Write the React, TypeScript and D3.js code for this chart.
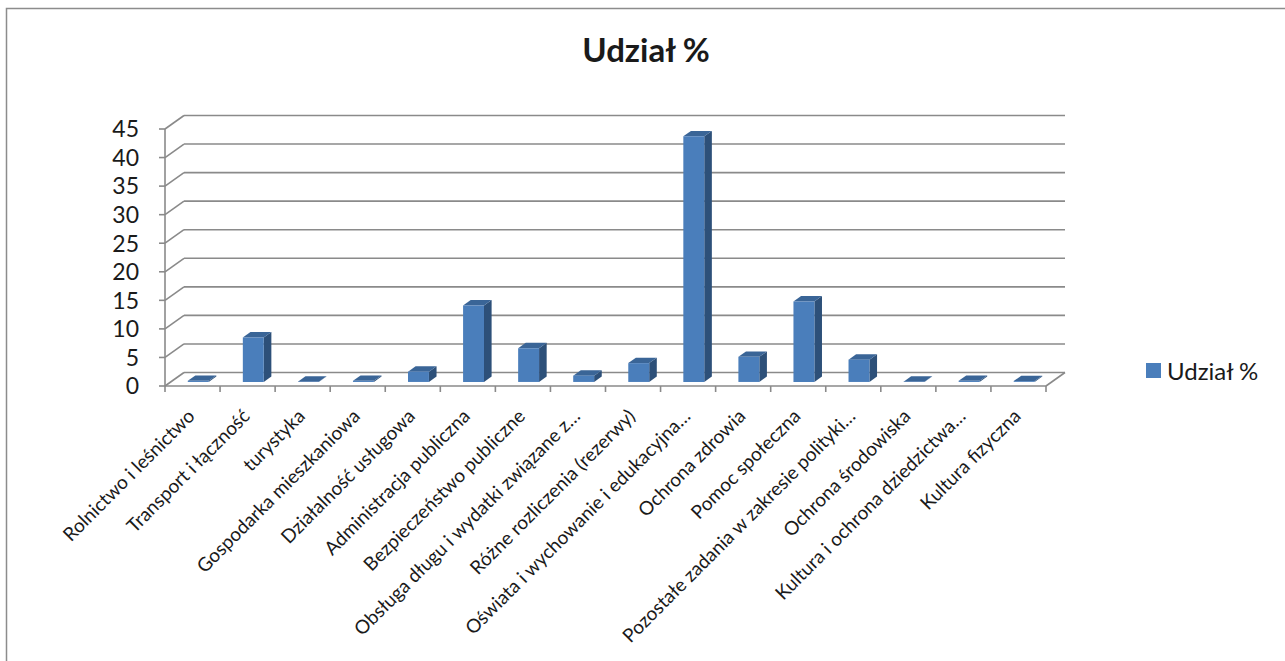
import React from "react";
import * as d3 from "d3";

const categories = [
  "Rolnictwo i leśnictwo",
  "Transport i łączność",
  "turystyka",
  "Gospodarka mieszkaniowa",
  "Działalność usługowa",
  "Administracja publiczna",
  "Bezpieczeństwo publiczne",
  "Obsługa długu i wydatki związane z…",
  "Różne rozliczenia (rezerwy)",
  "Oświata i wychowanie i edukacyjna…",
  "Ochrona zdrowia",
  "Pomoc społeczna",
  "Pozostałe zadania w zakresie polityki…",
  "Ochrona środowiska",
  "Kultura i ochrona dziedzictwa…",
  "Kultura fizyczna",
];

const values = [0.2, 7.8, 0.05, 0.2, 1.8, 13.4, 5.9, 1.1, 3.3, 43.0, 4.4, 14.1, 3.9, 0.05, 0.2, 0.15];

const yTicks = [0, 5, 10, 15, 20, 25, 30, 35, 40, 45];

const title = "Udział %";
const seriesName = "Udział %";

const FONT = "Lato, 'Open Sans', sans-serif";

export default function App() {
  const W = 1285;
  const H = 661;
  const x0 = 165;
  const x1 = 1046;
  const yBase = 386;
  const yTop = 129;
  const DX = 19;
  const DY = -13.5;

  const x = d3.scaleBand<string>().domain(categories).range([x0, x1]).padding(0);
  const y = d3.scaleLinear().domain([0, 45]).range([yBase, yTop]);

  const grid = "#8a8a8a";
  const bw = x.bandwidth() * 0.38;
  const f1 = 0.3;
  const f2 = 0.7;
  const bdx = (f2 - f1) * DX;
  const bdy = (f2 - f1) * DY;

  return (
    <svg width={W} height={H} style={{ position: "absolute", left: 0, top: 0 }}>
      <rect x={0} y={0} width={W} height={H} fill="#fff" />
      <rect x={6.5} y={8.5} width={W + 10} height={H + 10} fill="none" stroke="#8c8c8c" strokeWidth={1.5} />
      <text x={646} y={62} textAnchor="middle" fontFamily={FONT} fontWeight="bold" fontSize={33} fill="#1a1a1a">
        {title}
      </text>

      {yTicks.map((t) => (
        <g key={t}>
          <line x1={x0 + DX} x2={x1 + DX} y1={y(t) + DY} y2={y(t) + DY} stroke={grid} strokeWidth={1.6} />
          <line x1={x0} x2={x0 + DX} y1={y(t)} y2={y(t) + DY} stroke={grid} strokeWidth={1.6} />
          <line x1={x0 - 6} x2={x0} y1={y(t)} y2={y(t)} stroke={grid} strokeWidth={1.6} />
          <text x={139} y={y(t)} dy="0.36em" textAnchor="end" fontFamily={FONT} fontSize={23} fill="#1a1a1a">
            {t}
          </text>
        </g>
      ))}
      <line x1={x1} x2={x1 + DX} y1={yBase} y2={yBase + DY} stroke={grid} strokeWidth={1.6} />
      <line x1={x0} x2={x0} y1={yTop} y2={yBase} stroke={grid} strokeWidth={1.6} />

      {categories.map((c, i) => {
        const cx = (x(c) as number) + x.bandwidth() / 2 + f1 * DX;
        const by = yBase + f1 * DY;
        const h = yBase - y(values[i]);
        const xl = cx - bw / 2;
        const xr = cx + bw / 2;
        const yt = by - h;
        const front = `M${xl},${by}L${xr},${by}L${xr},${yt}L${xl},${yt}Z`;
        const side = `M${xr},${by}L${xr + bdx},${by + bdy}L${xr + bdx},${yt + bdy}L${xr},${yt}Z`;
        const top = `M${xl},${yt}L${xr},${yt}L${xr + bdx},${yt + bdy}L${xl + bdx},${yt + bdy}Z`;
        return (
          <g key={c}>
            <path d={side} fill="#2d5079" />
            <path d={top} fill="#3a6597" />
            <path d={front} fill="#4a7ebb" />
          </g>
        );
      })}

      <line x1={x0} x2={x1} y1={yBase} y2={yBase} stroke={grid} strokeWidth={1.6} />
      {categories.map((c) => (
        <line key={"t" + c} x1={x(c) as number} x2={x(c) as number} y1={yBase} y2={yBase + 6} stroke={grid} strokeWidth={1.6} />
      ))}
      <line x1={x1} x2={x1} y1={yBase} y2={yBase + 6} stroke={grid} strokeWidth={1.6} />

      {categories.map((c) => {
        const ax = (x(c) as number) + x.bandwidth() / 2 - 6;
        const ay = 408;
        return (
          <text
            key={"l" + c}
            transform={`translate(${ax},${ay}) rotate(-45)`}
            textAnchor="end"
            dy="0.7em"
            fontFamily={FONT}
            fontSize={19}
            fill="#1a1a1a"
          >
            {c}
          </text>
        );
      })}

      <rect x={1146} y={363} width={15} height={15} fill="#4a7ebb" />
      <text x={1167} y={371} dy="0.36em" fontFamily={FONT} fontSize={24} fill="#1a1a1a">
        {seriesName}
      </text>
    </svg>
  );
}
